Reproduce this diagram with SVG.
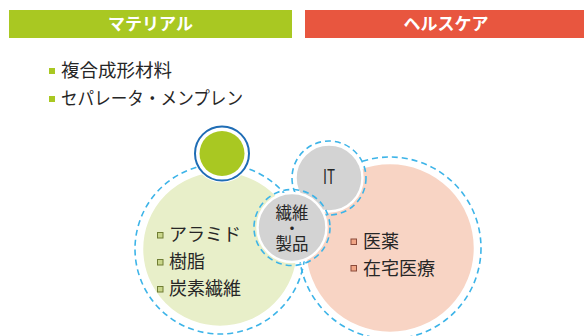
<svg xmlns="http://www.w3.org/2000/svg" width="584" height="336" viewBox="0 0 584 336">
<style>
text{font-family:"Noto Sans CJK JP","Noto Sans",sans-serif;fill:#262626}
.hd{font-size:17px;font-weight:bold;fill:#ffffff;text-anchor:middle}
.t{font-size:18px}
.ft{font-size:16.5px;text-anchor:middle}
.dash{fill:none;stroke:#3db4e8;stroke-width:1.6;stroke-dasharray:6 4}
.fill{stroke:#ffffff;stroke-width:2.5}
.bg{fill:#c9d68a;stroke:#6f7d33;stroke-width:1}
.br{fill:#f0a585;stroke:#8a4a3a;stroke-width:1}
</style>
<g id="header-material">
<rect x="9" y="10" width="283" height="28" fill="#a9c822"/>
<text class="hd" x="150.5" y="30">マテリアル</text>
</g>
<g id="header-healthcare">
<rect x="305" y="10" width="279" height="28" fill="#e8563f"/>
<text class="hd" x="446" y="30">ヘルスケア</text>
</g>
<g id="material-list">
<rect x="49" y="68" width="6" height="6" fill="#a9c822"/>
<text class="t" x="61" y="77" textLength="111" lengthAdjust="spacingAndGlyphs">複合成形材料</text>
<rect x="49" y="96" width="6" height="6" fill="#a9c822"/>
<text class="t" x="61" y="105" textLength="182" lengthAdjust="spacingAndGlyphs">セパレータ・メンプレン</text>
</g>
<g id="connectors"></g>
<g id="node-material">
<circle class="dash" cx="220" cy="249" r="85"/>
<circle class="fill" cx="220" cy="249" r="78" fill="#e8efc9"/>
<rect class="bg" x="157.5" y="232.5" width="5.5" height="5.5"/>
<text class="t" x="169" y="241">アラミド</text>
<rect class="bg" x="157.5" y="259.5" width="5.5" height="5.5"/>
<text class="t" x="169" y="268">樹脂</text>
<rect class="bg" x="157.5" y="286.5" width="5.5" height="5.5"/>
<text class="t" x="169" y="295">炭素繊維</text>
</g>
<g id="node-healthcare">
<circle class="dash" cx="390" cy="248" r="91"/>
<circle class="fill" cx="390" cy="248" r="85" fill="#f8d4c4"/>
<rect class="br" x="351" y="239" width="5.5" height="5.5"/>
<text class="t" x="363" y="248">医薬</text>
<rect class="br" x="351" y="265.5" width="5.5" height="5.5"/>
<text class="t" x="363" y="275">在宅医療</text>
</g>
<g id="node-it">
<circle class="dash" cx="329" cy="178" r="37"/>
<circle class="fill" cx="329" cy="178" r="33.5" fill="#d3d3d3"/>
<text x="329" y="184" font-size="20" text-anchor="middle" textLength="12" lengthAdjust="spacingAndGlyphs">IT</text>
</g>
<g id="node-fiber">
<circle class="dash" cx="292" cy="227.5" r="38"/>
<circle class="fill" cx="292" cy="227.5" r="34.5" fill="#d3d3d3"/>
<text class="ft"><tspan x="292" y="219">繊維</tspan><tspan x="292" y="234.5">・</tspan><tspan x="292" y="250">製品</tspan></text>
</g>
<g id="node-top">
<circle cx="222" cy="153.5" r="29" fill="#ffffff"/>
<circle cx="222" cy="153.5" r="27" fill="#ffffff" stroke="#1f6db5" stroke-width="2"/>
<circle cx="222" cy="153.5" r="22.5" fill="#a9c822"/>
</g>
</svg>
